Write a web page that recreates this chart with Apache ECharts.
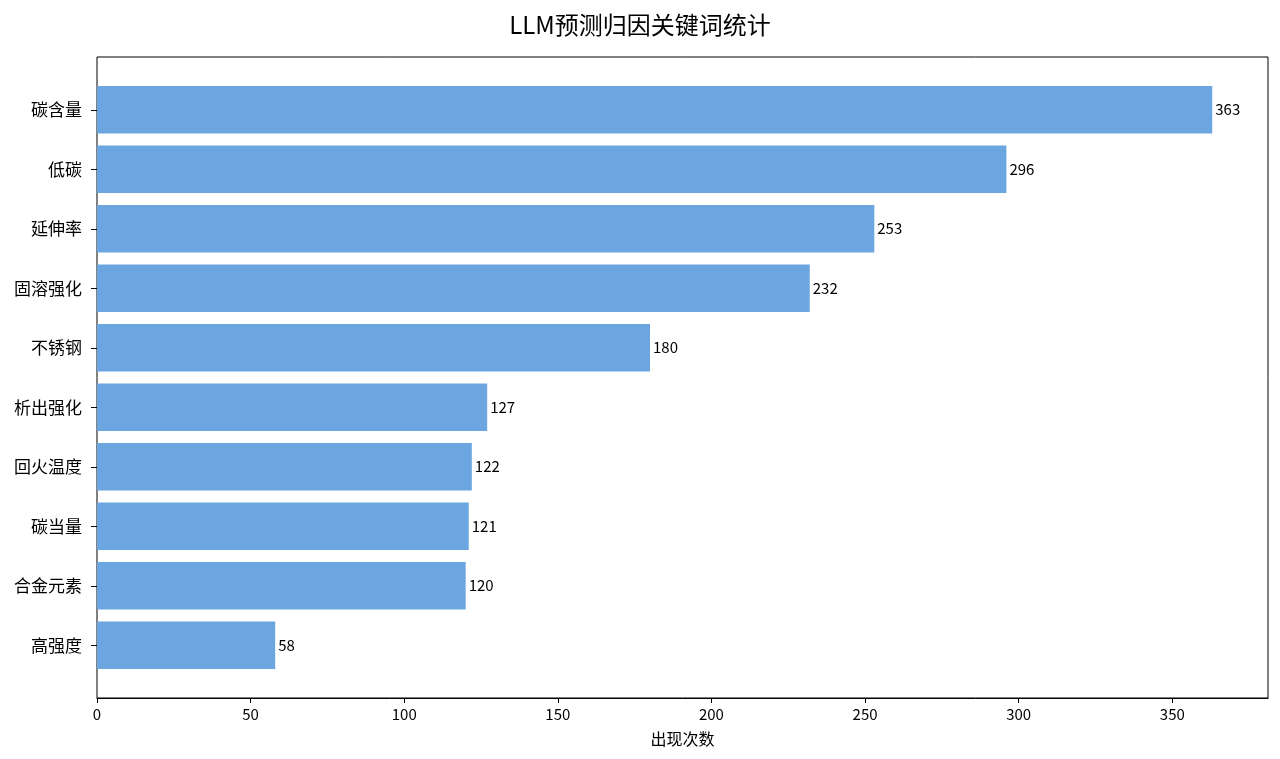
<!DOCTYPE html>
<html>
<head>
<meta charset="utf-8">
<title>LLM预测归因关键词统计</title>
<script src="https://cdn.jsdelivr.net/npm/echarts@6/dist/echarts.min.js"></script>
<style>
    html, body { margin: 0; padding: 0; background: #fff; }
    #chart { width: 1280px; height: 759px; }
</style>
</head>
<body>
<div id="chart"></div>
<script>
// 关键词及出现次数（从上到下）
var keywords = ['碳含量', '低碳', '延伸率', '固溶强化', '不锈钢', '析出强化', '回火温度', '碳当量', '合金元素', '高强度'];
var counts = [363, 296, 253, 232, 180, 127, 122, 121, 120, 58];
var xTicks = [0, 50, 100, 150, 200, 250, 300, 350];

var FONT = 'Noto Sans CJK SC';
var xMax = Math.max.apply(null, counts) * 1.05;

var myChart = echarts.init(document.getElementById('chart'));

var option = {
    backgroundColor: '#fff',
    animation: false,
    textStyle: { fontFamily: FONT },
    title: {
        text: 'LLM预测归因关键词统计',
        left: 'center',
        top: 8,
        textStyle: { fontFamily: FONT, fontSize: 24, fontWeight: 'normal', color: '#000' }
    },
    grid: [
        // 外框 + x轴
        { left: 97, top: 57, width: 1171, height: 641, show: true, borderColor: '#000', borderWidth: 1, backgroundColor: 'transparent' },
        // 条形区域
        { left: 97, top: 80, width: 1171, height: 595 }
    ],
    xAxis: [
        {
            gridIndex: 0,
            type: 'value',
            min: 0,
            max: xMax,
            interval: 50,
            splitLine: { show: false },
            axisLine: { show: true, lineStyle: { color: '#000', width: 1 } },
            axisTick: { show: true, length: 5, lineStyle: { color: '#000' } },
            axisLabel: {
                color: '#000', fontSize: 15, margin: 9,
                showMaxLabel: false,
                formatter: function (v) { return xTicks.indexOf(v) >= 0 ? String(v) : ''; }
            },
            name: '出现次数',
            nameLocation: 'middle',
            nameGap: 33,
            nameTextStyle: { color: '#000', fontSize: 16, fontFamily: FONT }
        },
        {
            gridIndex: 1,
            type: 'value',
            min: 0,
            max: xMax,
            show: false
        }
    ],
    yAxis: [
        { gridIndex: 0, type: 'value', show: false, min: 0, max: 1 },
        {
            gridIndex: 1,
            type: 'category',
            inverse: true,
            data: keywords,
            axisLine: { show: false },
            axisTick: { show: true, alignWithLabel: true, length: 6, lineStyle: { color: '#000' } },
            axisLabel: { color: '#000', fontSize: 17, margin: 15 },
            splitLine: { show: false }
        }
    ],
    series: [
        {
            type: 'bar',
            xAxisIndex: 1,
            yAxisIndex: 1,
            data: counts,
            barWidth: 47.5,
            itemStyle: { color: '#6ca6e0' },
            label: {
                show: true,
                position: 'right',
                distance: 3,
                color: '#000',
                fontSize: 15
            }
        }
    ]
};

myChart.setOption(option);
</script>
</body>
</html>
